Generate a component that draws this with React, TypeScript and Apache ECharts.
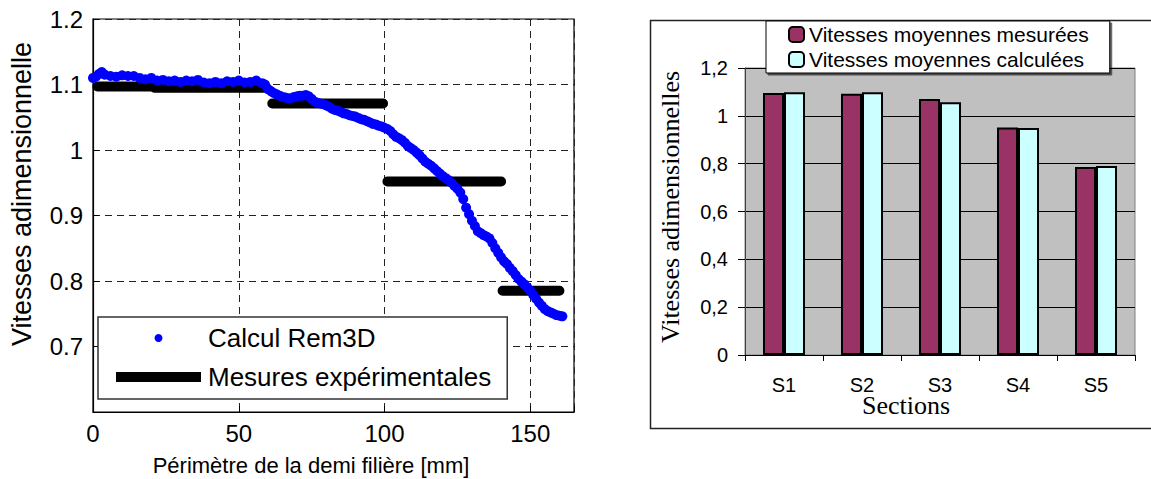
import React, { useEffect, useRef } from "react";
import * as echarts from "echarts";

// ---- Left chart data ----
const calcX = [0, 1, 2, 3, 4, 6, 8, 10, 12, 14, 16, 18, 20, 22, 24, 26, 28, 30, 32, 34, 36, 38, 40, 42, 44, 46, 48, 50, 52, 54, 56, 58,
  59, 60, 61, 62, 63, 64, 65, 66, 67, 68, 69, 70, 71, 72, 73, 74, 75, 76, 77, 78, 79, 80, 81, 82, 83, 84, 85, 86, 87, 88, 89, 90,
  91, 92, 93, 94, 95, 96, 97, 98, 99, 100, 101, 102, 103, 104, 105, 106, 107, 108, 109, 110, 111, 112, 113, 114, 115, 116, 117, 118, 119, 120,
  121, 122, 123, 124, 125, 126, 127, 128, 129, 130, 131, 132, 133, 134, 135, 136, 137, 138, 139, 140, 141, 142, 143, 144, 145, 146, 147, 148, 149, 150,
  151, 152, 153, 154, 155, 156, 157, 158, 159, 160, 161];
const calcY = [1.110, 1.112, 1.116, 1.119, 1.115, 1.113, 1.112, 1.114, 1.113, 1.113, 1.110, 1.108, 1.110, 1.106, 1.107, 1.105, 1.106, 1.104, 1.106, 1.105, 1.107, 1.103, 1.102, 1.104, 1.102, 1.105, 1.104, 1.106, 1.103, 1.104, 1.106, 1.102,
  1.100, 1.093, 1.090, 1.087, 1.085, 1.083, 1.081, 1.080, 1.079, 1.079, 1.081, 1.082, 1.083, 1.083, 1.084, 1.082, 1.078, 1.074, 1.072, 1.071, 1.070, 1.068, 1.066, 1.063, 1.061, 1.060, 1.058, 1.056, 1.055, 1.053, 1.052, 1.051,
  1.049, 1.047, 1.046, 1.044, 1.042, 1.040, 1.039, 1.037, 1.036, 1.034, 1.032, 1.029, 1.024, 1.020, 1.018, 1.015, 1.011, 1.006, 1.003, 1.000, 0.996, 0.992, 0.987, 0.982, 0.979, 0.976, 0.972, 0.968, 0.964, 0.960,
  0.957, 0.954, 0.950, 0.945, 0.941, 0.935, 0.925, 0.912, 0.902, 0.892, 0.884, 0.876, 0.873, 0.870, 0.868, 0.865, 0.858, 0.850, 0.843, 0.836, 0.830, 0.826, 0.820, 0.815, 0.809, 0.803, 0.799, 0.795, 0.790, 0.785,
  0.779, 0.773, 0.767, 0.762, 0.757, 0.754, 0.752, 0.750, 0.748, 0.747, 0.746];

const measStart = [1.5, 21, 61.5, 101, 140.5];
const measEnd = [19.5, 59.5, 99.5, 140, 160];
const measLevel = [1.097, 1.095, 1.071, 0.952, 0.785];

const leftXTicks = [0, 50, 100, 150];

// ---- Right chart data ----
const sections = ["S1", "S2", "S3", "S4", "S5"];
const measuredMean = [1.095, 1.092, 1.070, 0.951, 0.786];
const computedMean = [1.099, 1.099, 1.057, 0.949, 0.790];

const SANS = "Liberation Sans, Arial, sans-serif";
const SERIF = "Liberation Serif, Times New Roman, serif";

export default function App() {
  const ref = useRef<HTMLDivElement>(null);

  useEffect(() => {
    if (!ref.current) return;
    const chart = echarts.init(ref.current, undefined, { renderer: "svg" });

    const calcData = calcX.map((x, i) => [x, calcY[i]]);
    const measData: any[] = [];
    measStart.forEach((s, i) => {
      measData.push([s, measLevel[i]]);
      measData.push([measEnd[i], measLevel[i]]);
      if (i < measStart.length - 1) measData.push([(measEnd[i] + measStart[i + 1]) / 2, null]);
    });

    const option: any = {
      animation: false,
      backgroundColor: "#ffffff",
      grid: [
        { left: 93, top: 19, width: 481, height: 393, show: true, borderColor: "#000", borderWidth: 1.2, backgroundColor: "transparent" },
        { left: 745, top: 68, width: 390, height: 287, show: true, borderColor: "#808080", borderWidth: 1, backgroundColor: "#C0C0C0" },
      ],
      xAxis: [
        {
          gridIndex: 0, type: "value", min: 0, max: 165, interval: 50,
          axisLine: { show: true, lineStyle: { color: "#000", width: 1.2 } },
          axisTick: { show: true, inside: true, length: 6, lineStyle: { color: "#000" } },
          splitLine: { show: true, lineStyle: { color: "#222", type: [7, 5], width: 1 } },
          axisLabel: {
            color: "#000", fontFamily: SANS, fontSize: 24, margin: 9,
            formatter: (v: number) => (leftXTicks.includes(v) ? String(v) : ""),
          },
        },
        {
          gridIndex: 1, type: "category", data: sections,
          axisLine: { show: true, lineStyle: { color: "#000", width: 1 } },
          axisTick: { show: true, length: 6, lineStyle: { color: "#000" } },
          splitLine: { show: false },
          axisLabel: { color: "#000", fontFamily: SANS, fontSize: 20, margin: 20 },
        },
      ],
      yAxis: [
        {
          gridIndex: 0, type: "value", min: 0.6, max: 1.2, interval: 0.1,
          axisLine: { show: true, lineStyle: { color: "#000", width: 1.2 } },
          axisTick: { show: true, inside: true, length: 6, lineStyle: { color: "#000" } },
          splitLine: { show: true, lineStyle: { color: "#222", type: [7, 5], width: 1 } },
          axisLabel: {
            color: "#000", fontFamily: SANS, fontSize: 24, margin: 10,
            formatter: (v: number) => (v < 0.65 ? "" : String(Math.round(v * 10) / 10)),
          },
        },
        {
          gridIndex: 1, type: "value", min: 0, max: 1.2, interval: 0.2,
          axisLine: { show: true, lineStyle: { color: "#404040", width: 1 } },
          axisTick: { show: true, length: 7, lineStyle: { color: "#000" } },
          splitLine: { show: true, lineStyle: { color: "#000", width: 1 } },
          axisLabel: {
            color: "#000", fontFamily: SANS, fontSize: 20, margin: 17,
            formatter: (v: number) => String(Math.round(v * 10) / 10).replace(".", ","),
          },
        },
      ],
      legend: [
        {
          orient: "vertical", left: 98, top: 317,
          data: ["Calcul Rem3D", "Mesures expérimentales"],
          itemWidth: 85, itemHeight: 8, itemGap: 11,
          padding: [7, 16, 8, 13],
          backgroundColor: "#ffffff", borderColor: "#333", borderWidth: 1.5, borderRadius: 0,
          lineStyle: { width: 10, cap: "butt" },
          textStyle: { color: "#000", fontFamily: SANS, fontSize: 26, lineHeight: 28, padding: [0, 0, 0, 2] },
        },
        {
          orient: "vertical", left: 766, top: 21,
          data: ["Vitesses moyennes mesurées", "Vitesses moyennes calculées"],
          itemWidth: 15, itemHeight: 15, itemGap: 4,
          padding: [3, 21, 3, 22],
          backgroundColor: "#ffffff", borderColor: "#000", borderWidth: 1, borderRadius: 0,
          shadowColor: "rgba(0,0,0,0.6)", shadowOffsetX: 2, shadowOffsetY: 2, shadowBlur: 0,
          textStyle: { color: "#000", fontFamily: SANS, fontSize: 21, lineHeight: 21 },
        },
      ],
      series: [
        {
          name: "Mesures expérimentales", type: "line", xAxisIndex: 0, yAxisIndex: 0,
          data: measData, connectNulls: false, symbol: "none", showSymbol: false,
          lineStyle: { color: "#000", width: 10, cap: "round" }, itemStyle: { color: "#000" }, z: 2,
        },
        {
          name: "Calcul Rem3D", type: "scatter", xAxisIndex: 0, yAxisIndex: 0,
          data: calcData, symbol: "circle", symbolSize: 10,
          itemStyle: { color: "#0000FF", opacity: 1 }, z: 3,
        },
        {
          name: "Vitesses moyennes mesurées", type: "bar", xAxisIndex: 1, yAxisIndex: 1,
          data: measuredMean, barWidth: 21, barGap: "0%",
          itemStyle: { color: "#993366", borderColor: "#000", borderWidth: 2 },
        },
        {
          name: "Vitesses moyennes calculées", type: "bar", xAxisIndex: 1, yAxisIndex: 1,
          data: computedMean, barWidth: 21, barGap: "0%",
          itemStyle: { color: "#CCFFFF", borderColor: "#000", borderWidth: 2 },
        },
      ],
      graphic: [
        {
          type: "rect", left: 648, top: 18, z: -10, silent: true,
          shape: { width: 520, height: 408 },
          style: { fill: "none", stroke: "#222", lineWidth: 1.5 },
        },
        {
          type: "text", x: 22, y: 194, rotation: Math.PI / 2,
          style: { text: "Vitesses adimensionnelle", fill: "#000", fontFamily: SANS, fontSize: 27, align: "center", verticalAlign: "middle" },
        },
        {
          type: "text", x: 311, y: 465,
          style: { text: "Périmètre de la demi filière [mm]", fill: "#000", fontFamily: SANS, fontSize: 22, align: "center", verticalAlign: "middle" },
        },
        {
          type: "text", x: 670, y: 207, rotation: Math.PI / 2,
          style: { text: "Vitesses adimensionnelles", fill: "#000", fontFamily: SERIF, fontSize: 26, align: "center", verticalAlign: "middle" },
        },
        {
          type: "text", x: 906, y: 405,
          style: { text: "Sections", fill: "#000", fontFamily: SERIF, fontSize: 26, align: "center", verticalAlign: "middle" },
        },
      ],
    };

    chart.setOption(option);
    return () => chart.dispose();
  }, []);

  return (
    <div
      ref={ref}
      style={{ position: "absolute", left: 0, top: 0, width: 1151, height: 479, background: "#fff" }}
    />
  );
}
